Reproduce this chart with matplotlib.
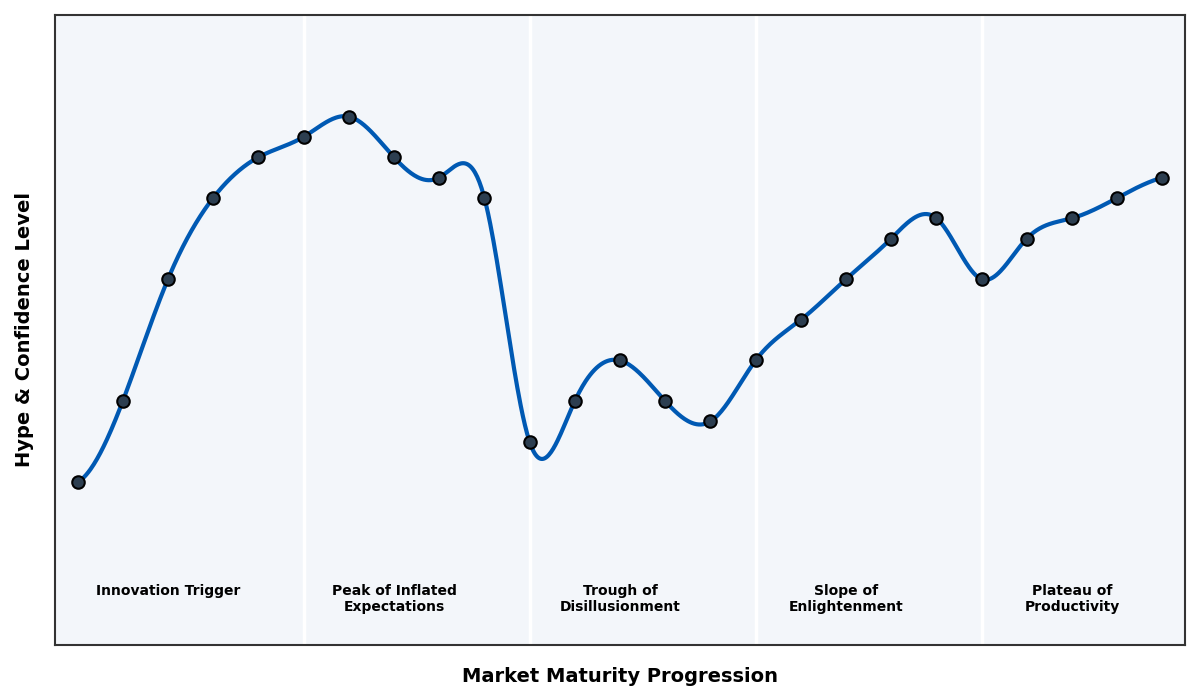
import numpy as np
import matplotlib
matplotlib.use("Agg")
import matplotlib.pyplot as plt

# ---- data ----
stages = list(range(25))
confidence = [20, 40, 70, 90, 100, 105, 110, 100, 95, 90,
              30, 40, 50, 40, 35, 50, 60, 70, 80, 85,
              70, 80, 85, 90, 95]
phase_names = ["Innovation Trigger", "Peak of Inflated\nExpectations",
               "Trough of\nDisillusionment", "Slope of\nEnlightenment",
               "Plateau of\nProductivity"]
phase_bounds = [0, 5, 10, 15, 20, 25]
label_pos = [2, 7, 12, 17, 22]


def not_a_knot_spline(x, y, xs):
    x = np.asarray(x, float)
    y = np.asarray(y, float)
    n = len(x)
    h = np.diff(x)
    A = np.zeros((n, n))
    b = np.zeros(n)
    # not-a-knot end conditions
    A[0, 0] = h[1]
    A[0, 1] = -(h[0] + h[1])
    A[0, 2] = h[0]
    A[-1, -3] = h[-1]
    A[-1, -2] = -(h[-2] + h[-1])
    A[-1, -1] = h[-2]
    for i in range(1, n - 1):
        A[i, i - 1] = h[i - 1]
        A[i, i] = 2 * (h[i - 1] + h[i])
        A[i, i + 1] = h[i]
        b[i] = 3 * ((y[i + 1] - y[i]) / h[i] - (y[i] - y[i - 1]) / h[i - 1])
    c = np.linalg.solve(A, b)
    bb = (y[1:] - y[:-1]) / h - h * (2 * c[:-1] + c[1:]) / 3
    d = (c[1:] - c[:-1]) / (3 * h)
    idx = np.clip(np.searchsorted(x, xs) - 1, 0, n - 2)
    dx = xs - x[idx]
    return y[idx] + bb[idx] * dx + c[idx] * dx ** 2 + d[idx] * dx ** 3


fig = plt.figure(figsize=(12, 7), dpi=100)
ax = fig.add_axes([0.0458, 0.0786, 0.9417, 0.9])
ax.set_facecolor("#f3f6fa")

ax.set_xlim(-0.5, 24.5)
ax.set_ylim(-20, 135)

for b in phase_bounds[1:-1]:
    ax.axvline(b, color="white", lw=2.5, zorder=1)

xs = np.linspace(stages[0], stages[-1], 1000)
ys = not_a_knot_spline(stages, confidence, xs)
ax.plot(xs, ys, color="#0059b3", lw=3, zorder=2, solid_capstyle="round")
ax.plot(stages, confidence, "o", ms=9, mfc="#2c3e50", mec="black", mew=1.5, zorder=3)

for name, pos in zip(phase_names, label_pos):
    ax.text(pos, -5, name, ha="center", va="top", fontsize=10, fontweight="bold",
            color="black", linespacing=1.2)

ax.set_xticks([])
ax.set_yticks([])
for s in ax.spines.values():
    s.set_color("#333333")
    s.set_linewidth(1.5)

ax.set_xlabel("Market Maturity Progression", fontsize=14, fontweight="bold", labelpad=16)
ax.set_ylabel("Hype & Confidence Level", fontsize=14, fontweight="bold", labelpad=15)

fig.savefig("out.png", dpi=100)
